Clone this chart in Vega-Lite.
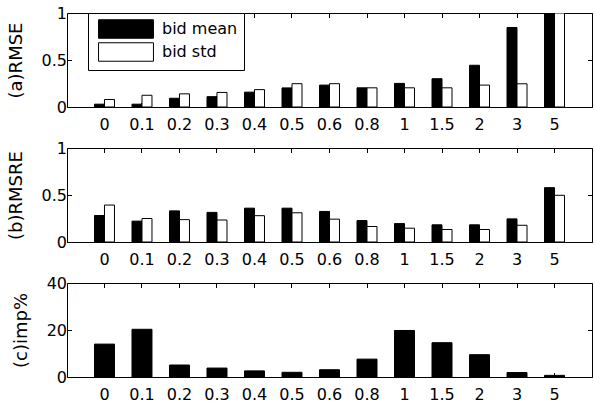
{
  "$schema": "https://vega.github.io/schema/vega-lite/v6.json",
  "padding": {"left": 6, "top": 4, "right": 0, "bottom": 0},
  "bounds": "flush",
  "spacing": 41,
  "config": {
    "view": {"stroke": "black", "strokeWidth": 1},
    "font": "DejaVu Sans",
    "axis": {
      "labelFont": "DejaVu Sans",
      "labelFontSize": 16,
      "labelColor": "black",
      "titleFont": "DejaVu Sans",
      "titleFontSize": 18,
      "titleFontWeight": "normal",
      "titleColor": "black",
      "domain": false,
      "grid": false,
      "tickColor": "black",
      "tickSize": -4.5,
      "tickWidth": 1
    }
  },
  "datasets": {
    "rmse": [
      {"x": "0", "series": "bid mean", "value": 0.03},
      {"x": "0", "series": "bid std", "value": 0.08},
      {"x": "0.1", "series": "bid mean", "value": 0.03},
      {"x": "0.1", "series": "bid std", "value": 0.125},
      {"x": "0.2", "series": "bid mean", "value": 0.093},
      {"x": "0.2", "series": "bid std", "value": 0.14},
      {"x": "0.3", "series": "bid mean", "value": 0.11},
      {"x": "0.3", "series": "bid std", "value": 0.155},
      {"x": "0.4", "series": "bid mean", "value": 0.158},
      {"x": "0.4", "series": "bid std", "value": 0.185},
      {"x": "0.5", "series": "bid mean", "value": 0.203},
      {"x": "0.5", "series": "bid std", "value": 0.248},
      {"x": "0.6", "series": "bid mean", "value": 0.233},
      {"x": "0.6", "series": "bid std", "value": 0.248},
      {"x": "0.8", "series": "bid mean", "value": 0.204},
      {"x": "0.8", "series": "bid std", "value": 0.204},
      {"x": "1", "series": "bid mean", "value": 0.251},
      {"x": "1", "series": "bid std", "value": 0.204},
      {"x": "1.5", "series": "bid mean", "value": 0.301},
      {"x": "1.5", "series": "bid std", "value": 0.204},
      {"x": "2", "series": "bid mean", "value": 0.444},
      {"x": "2", "series": "bid std", "value": 0.233},
      {"x": "3", "series": "bid mean", "value": 0.846},
      {"x": "3", "series": "bid std", "value": 0.247},
      {"x": "5", "series": "bid mean", "value": 1},
      {"x": "5", "series": "bid std", "value": 1}
    ],
    "rmsre": [
      {"x": "0", "series": "bid mean", "value": 0.282},
      {"x": "0", "series": "bid std", "value": 0.393},
      {"x": "0.1", "series": "bid mean", "value": 0.222},
      {"x": "0.1", "series": "bid std", "value": 0.25},
      {"x": "0.2", "series": "bid mean", "value": 0.331},
      {"x": "0.2", "series": "bid std", "value": 0.238},
      {"x": "0.3", "series": "bid mean", "value": 0.315},
      {"x": "0.3", "series": "bid std", "value": 0.234},
      {"x": "0.4", "series": "bid mean", "value": 0.36},
      {"x": "0.4", "series": "bid std", "value": 0.28},
      {"x": "0.5", "series": "bid mean", "value": 0.36},
      {"x": "0.5", "series": "bid std", "value": 0.311},
      {"x": "0.6", "series": "bid mean", "value": 0.325},
      {"x": "0.6", "series": "bid std", "value": 0.243},
      {"x": "0.8", "series": "bid mean", "value": 0.228},
      {"x": "0.8", "series": "bid std", "value": 0.165},
      {"x": "1", "series": "bid mean", "value": 0.196},
      {"x": "1", "series": "bid std", "value": 0.147},
      {"x": "1.5", "series": "bid mean", "value": 0.183},
      {"x": "1.5", "series": "bid std", "value": 0.133},
      {"x": "2", "series": "bid mean", "value": 0.183},
      {"x": "2", "series": "bid std", "value": 0.133},
      {"x": "3", "series": "bid mean", "value": 0.246},
      {"x": "3", "series": "bid std", "value": 0.178},
      {"x": "5", "series": "bid mean", "value": 0.578},
      {"x": "5", "series": "bid std", "value": 0.497}
    ],
    "imp": [
      {"x": "0", "value": 14.0},
      {"x": "0.1", "value": 20.3},
      {"x": "0.2", "value": 5.1},
      {"x": "0.3", "value": 3.8},
      {"x": "0.4", "value": 2.6},
      {"x": "0.5", "value": 2.0},
      {"x": "0.6", "value": 3.1},
      {"x": "0.8", "value": 7.6},
      {"x": "1", "value": 19.8},
      {"x": "1.5", "value": 14.6},
      {"x": "2", "value": 9.5},
      {"x": "3", "value": 1.9},
      {"x": "5", "value": 0.7}
    ]
  },
  "resolve": {"scale": {"color": "independent"}},
  "vconcat": [
    {
      "width": 525,
      "height": 94,
      "data": {"name": "rmse"},
      "layer": [
        {
          "mark": {"type": "bar", "stroke": "black", "strokeWidth": 1, "clip": true},
          "encoding": {
            "x": {"field": "x", "type": "nominal", "sort": null,
              "scale": {"paddingInner": 0.467, "paddingOuter": 0.733},
              "axis": {"orient": "bottom", "title": null, "labelAngle": 0, "labelPadding": 14}},
            "xOffset": {"field": "series", "type": "nominal", "sort": null},
            "y": {"field": "value", "type": "quantitative",
              "scale": {"domain": [0, 1], "nice": false},
              "axis": {"orient": "left", "title": "(a)RMSE", "values": [0, 0.5, 1], "format": "~r", "labelPadding": 5, "titlePadding": 16}},
            "color": {"field": "series", "type": "nominal",
              "scale": {"domain": ["bid mean", "bid std"], "range": ["black", "white"]},
              "legend": {
                "orient": "none", "legendX": 21, "legendY": 0, "title": null,
                "symbolType": "M-2.97,-1H2.97V1H-2.97Z", "symbolSize": 342,
                "symbolStrokeColor": "black", "symbolStrokeWidth": 1,
                "symbolOffset": 22, "labelOffset": 26,
                "labelFont": "DejaVu Sans", "labelFontSize": 16, "labelColor": "black",
                "strokeColor": "black", "fillColor": "white", "padding": 6, "rowPadding": -1, "cornerRadius": 0
              }}
          }
        },
        {
          "mark": {"type": "bar", "opacity": 0},
          "encoding": {
            "x": {"field": "x", "type": "nominal", "sort": null,
              "axis": {"orient": "top", "title": null, "labels": false}},
            "xOffset": {"field": "series", "type": "nominal", "sort": null},
            "y": {"field": "value", "type": "quantitative",
              "axis": {"orient": "right", "title": null, "labels": false, "values": [0, 0.5, 1]}}
          }
        }
      ],
      "resolve": {"axis": {"x": "independent", "y": "independent"}}
    },
    {
      "width": 525,
      "height": 94,
      "data": {"name": "rmsre"},
      "layer": [
        {
          "mark": {"type": "bar", "stroke": "black", "strokeWidth": 1},
          "encoding": {
            "x": {"field": "x", "type": "nominal", "sort": null,
              "scale": {"paddingInner": 0.467, "paddingOuter": 0.733},
              "axis": {"orient": "bottom", "title": null, "labelAngle": 0, "labelPadding": 14}},
            "xOffset": {"field": "series", "type": "nominal", "sort": null},
            "y": {"field": "value", "type": "quantitative",
              "scale": {"domain": [0, 1], "nice": false},
              "axis": {"orient": "left", "title": "(b)RMSRE", "values": [0, 0.5, 1], "format": "~r", "labelPadding": 5, "titlePadding": 16}},
            "color": {"field": "series", "type": "nominal",
              "scale": {"domain": ["bid mean", "bid std"], "range": ["black", "white"]},
              "legend": null}
          }
        },
        {
          "mark": {"type": "bar", "opacity": 0},
          "encoding": {
            "x": {"field": "x", "type": "nominal", "sort": null,
              "axis": {"orient": "top", "title": null, "labels": false}},
            "xOffset": {"field": "series", "type": "nominal", "sort": null},
            "y": {"field": "value", "type": "quantitative",
              "axis": {"orient": "right", "title": null, "labels": false, "values": [0, 0.5, 1]}}
          }
        }
      ],
      "resolve": {"axis": {"x": "independent", "y": "independent"}}
    },
    {
      "width": 525,
      "height": 94,
      "data": {"name": "imp"},
      "layer": [
        {
          "mark": {"type": "bar", "fill": "black", "stroke": "black", "strokeWidth": 1},
          "encoding": {
            "x": {"field": "x", "type": "nominal", "sort": null,
              "scale": {"paddingInner": 0.467, "paddingOuter": 0.733},
              "axis": {"orient": "bottom", "title": null, "labelAngle": 0, "labelPadding": 14}},
            "y": {"field": "value", "type": "quantitative",
              "scale": {"domain": [0, 40], "nice": false},
              "axis": {"orient": "left", "title": "(c)imp%", "values": [0, 20, 40], "format": "~r", "labelPadding": 5, "titlePadding": 16}}
          }
        },
        {
          "mark": {"type": "bar", "opacity": 0},
          "encoding": {
            "x": {"field": "x", "type": "nominal", "sort": null,
              "axis": {"orient": "top", "title": null, "labels": false}},
            "y": {"field": "value", "type": "quantitative",
              "axis": {"orient": "right", "title": null, "labels": false, "values": [0, 20, 40]}}
          }
        }
      ],
      "resolve": {"axis": {"x": "independent", "y": "independent"}}
    }
  ]
}
